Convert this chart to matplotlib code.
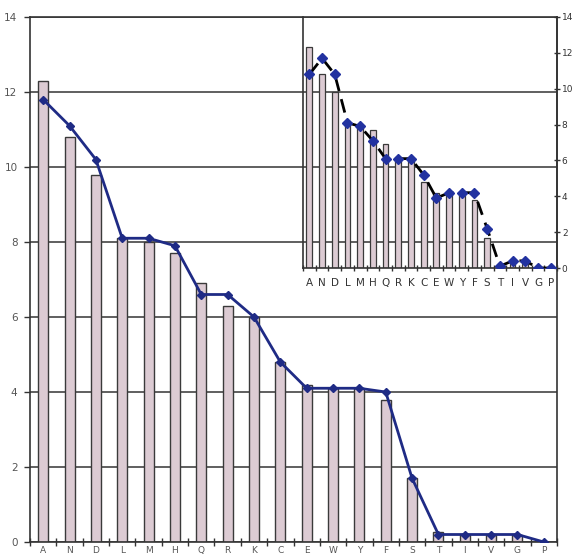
import matplotlib
matplotlib.use("Agg")
import matplotlib.pyplot as plt
import numpy as np

categories = ["A", "N", "D", "L", "M", "H", "Q", "R", "K", "C",
              "E", "W", "Y", "F", "S", "T", "I", "V", "G", "P"]
bar_values = [12.3, 10.8, 9.8, 8.1, 8.0, 7.7, 6.9, 6.3, 6.0, 4.8,
              4.2, 4.1, 4.1, 3.8, 1.7, 0.27, 0.2, 0.2, 0.2, 0.0]
main_line = [11.8, 11.1, 10.2, 8.1, 8.1, 7.9, 6.6, 6.6, 6.0, 4.8,
             4.1, 4.1, 4.1, 4.0, 1.7, 0.2, 0.2, 0.2, 0.2, 0.0]
inset_bars = [12.3, 10.8, 9.8, 8.2, 7.9, 7.7, 6.9, 6.2, 6.0, 4.8,
              4.2, 4.1, 4.1, 3.8, 1.7, 0.1, 0.2, 0.2, 0.05, 0.0]
inset_line = [10.8, 11.7, 10.8, 8.1, 7.9, 7.1, 6.1, 6.1, 6.1, 5.2,
              3.9, 4.2, 4.2, 4.2, 2.2, 0.1, 0.4, 0.4, 0.0, 0.0]
y_ticks = [0, 2, 4, 6, 8, 10, 12, 14]

W, H = 572, 559
fig = plt.figure(figsize=(W / 100, H / 100), dpi=100)
fig.patch.set_facecolor("white")

bar_face = "#dccbd3"
bar_edge = "#3a3a3a"
navy = "#1f2b85"
grid_c = "#444444"

def frac(x0, y0, x1, y1):
    return [x0 / W, 1 - y1 / H, (x1 - x0) / W, (y1 - y0) / H]

# Main axes
ax = fig.add_axes(frac(30, 17, 557, 542))
x = np.arange(len(categories))
ax.bar(x, bar_values, width=0.38, color=bar_face, edgecolor=bar_edge, linewidth=1.0, zorder=2)
ax.plot(x, main_line, color=navy, lw=2.0, marker="D", markersize=4, zorder=3)
ax.set_xlim(-0.5, len(categories) - 0.5)
ax.set_ylim(0, 14)
ax.set_yticks(y_ticks)
ax.set_yticklabels([str(v) for v in y_ticks], fontsize=7.5, color="#555555")
ax.yaxis.grid(True, color=grid_c, lw=1.2, zorder=0)
ax.set_axisbelow(True)
ax.set_xticks(np.arange(len(categories) + 1) - 0.5)
ax.set_xticklabels([])
ax.set_xticks(x, minor=True)
ax.set_xticklabels(categories, minor=True, fontsize=6.5, color="#555555")
ax.tick_params(axis="x", which="major", direction="inout", length=6, width=1, color="#333333")
ax.tick_params(axis="x", which="minor", length=0, pad=3)
ax.tick_params(axis="y", direction="out", length=4, width=1, color="#333333", pad=5)
for s in ax.spines.values():
    s.set_color("#333333")
    s.set_linewidth(1.2)

# Inset axes
ai = fig.add_axes(frac(303, 17, 557, 268))
ai.patch.set_alpha(0)
ai.bar(x, inset_bars, width=0.45, color=bar_face, edgecolor=bar_edge, linewidth=0.9, zorder=2)
ai.plot(x, inset_line, color="black", lw=2.0, ls=(0, (5, 3)), zorder=3)
ai.plot(x, inset_line, ls="none", marker="D", markersize=5, color="#2232a0", zorder=4)
ai.set_xlim(-0.5, len(categories) - 0.5)
ai.set_ylim(0, 14)
ai.yaxis.tick_right()
ai.set_yticks(y_ticks)
ai.set_yticklabels([str(v) for v in y_ticks], fontsize=6.5, color="#333333")
ai.tick_params(axis="y", direction="inout", length=5, width=1, color="#333333", pad=1)
ai.set_xticks(np.arange(len(categories) + 1) - 0.5)
ai.set_xticklabels([])
ai.set_xticks(x, minor=True)
ai.set_xticklabels(categories, minor=True, fontsize=7.5, color="#333333")
ai.tick_params(axis="x", which="major", direction="inout", length=5, width=1, color="#333333")
ai.tick_params(axis="x", which="minor", length=0, pad=7)
ai.spines["top"].set_visible(False)
for k in ["left", "right", "bottom"]:
    ai.spines[k].set_color("#333333")
    ai.spines[k].set_linewidth(1.2)

fig.savefig("out.png", dpi=100, facecolor="white")
